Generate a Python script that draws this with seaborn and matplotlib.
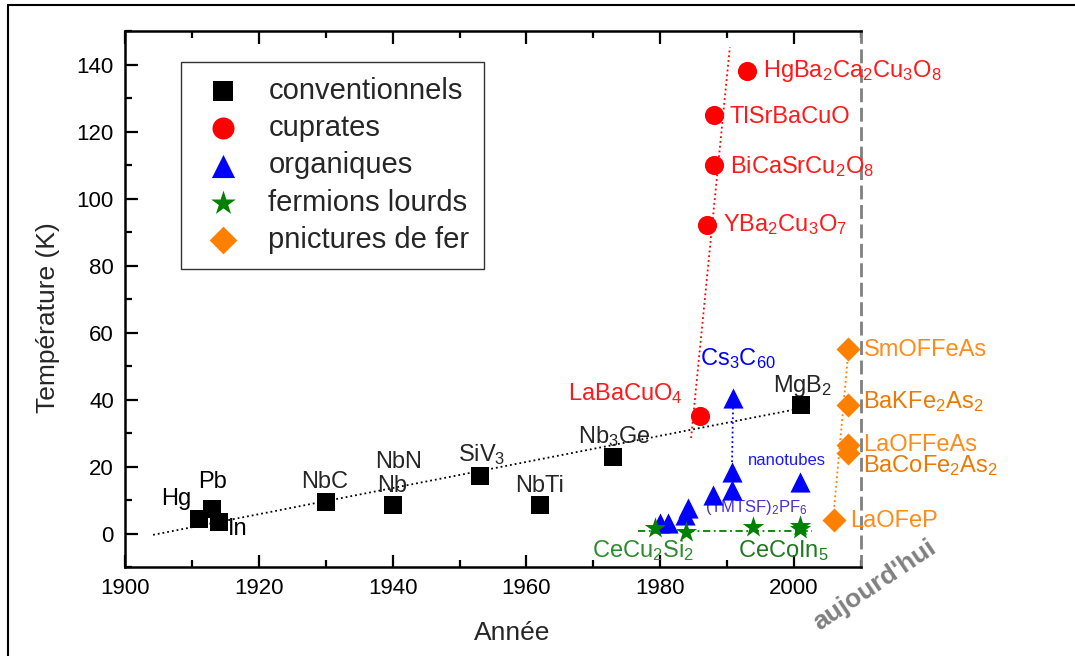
import matplotlib
matplotlib.use('Agg')
import matplotlib.pyplot as plt
import seaborn as sns
import pandas as pd
from matplotlib.lines import Line2D
from matplotlib.ticker import MultipleLocator

sns.set_theme(style='ticks')
plt.rcParams['font.family'] = ['Liberation Sans', 'DejaVu Sans']
plt.rcParams['mathtext.fontset'] = 'custom'
plt.rcParams['mathtext.rm'] = 'Liberation Sans'
plt.rcParams['mathtext.it'] = 'Liberation Sans:italic'
plt.rcParams['mathtext.bf'] = 'Liberation Sans:bold'

# --- données (année de découverte, Tc en K) ---
conv_noms = ['Hg', 'Pb', 'In', 'NbC', 'Nb', 'SiV$_3$', 'NbTi', 'Nb$_3$Ge', 'MgB$_2$']
conv_annees = [1911, 1913, 1914, 1930, 1940, 1953, 1962, 1973, 2001]
conv_tc = [4.2, 7.2, 3.4, 9.4, 8.6, 17.2, 8.5, 22.8, 38.4]

cupr_noms = ['LaBaCuO$_4$', 'YBa$_2$Cu$_3$O$_7$', 'BiCaSrCu$_2$O$_8$', 'TlSrBaCuO',
             'HgBa$_2$Ca$_2$Cu$_3$O$_8$']
cupr_annees = [1986, 1987, 1988, 1988, 1993]
cupr_tc = [35, 92, 110, 125, 138]

org_annees = [1980, 1981.2, 1983.7, 1984.1, 1987.9, 1990.7, 1990.7, 1990.9, 2000.9]
org_tc = [3.0, 3.0, 5.4, 7.6, 11.5, 13.0, 18.4, 40.4, 15.5]

ferm_annees = [1979.2, 1983.9, 1993.9, 2000.9, 2000.9]
ferm_tc = [1.5, 0.5, 1.9, 2.3, 1.4]

pnic_noms = ['SmOFFeAs', 'BaKFe$_2$As$_2$', 'LaOFFeAs', 'BaCoFe$_2$As$_2$', 'LaOFeP']
pnic_annees = [2008, 2008, 2008, 2008, 2006]
pnic_tc = [55, 38.4, 26.4, 24, 4]

# guides (tendances tracées à la main sur l'original)
guide_conv = ([1904.2, 1999.8], [-0.4, 36.9])
guide_cupr = ([1984.6, 1990.4], [28.5, 145.2])
guide_ferm = ([1976.7, 2002.7], [0.75, 0.75])
guide_pnic = ([2006.0, 2008.0], [8.0, 51.8])

fig = plt.figure(figsize=(10.75, 6.56), dpi=100)
ax = fig.add_axes([0.11628, 0.13567, 0.68465, 0.81707])

# cadre de la figure (haut et gauche)
fig.add_artist(Line2D([0.0074, 0.0074], [0, 0.992], color='black', lw=1.5))
fig.add_artist(Line2D([0.0074, 1], [0.992, 0.992], color='black', lw=1.5))

# lignes de tendance
ax.plot(*guide_conv, ls=':', color='black', lw=1.3, zorder=2)
ax.plot(*guide_cupr, ls=':', color='red', lw=1.3, zorder=2)
ax.plot([org_annees[7], org_annees[6]], [org_tc[7], org_tc[6]], ls=':', color='blue', lw=1.3, zorder=2)
ax.plot(*guide_ferm, ls=(0, (4, 2, 1, 2)), color='green', lw=1.3, zorder=2)
ax.plot(*guide_pnic, ls=':', color='#ff8000', lw=1.3, zorder=2)

familles = [
    ('conventionnels', conv_annees, conv_tc, 's', 'black', 150),
    ('cuprates', cupr_annees, cupr_tc, 'o', 'red', 190),
    ('organiques', org_annees, org_tc, '^', 'blue', 210),
    ('fermions lourds', ferm_annees, ferm_tc, '*', 'green', 260),
    ('pnictures de fer', pnic_annees, pnic_tc, 'D', '#ff8000', 150),
]
for nom, x, y, m, c, s in familles:
    df = pd.DataFrame({'annee': x, 'tc': y})
    sns.scatterplot(data=df, x='annee', y='tc', marker=m, color=c, s=s,
                    linewidth=0, label=nom, ax=ax, zorder=4)

# étiquettes : (décalage en pixels, alignement, couleur, taille)
def etiquette(texte, x, y, dx, dy, couleur, ha='left', taille=17, poids='normal'):
    ax.annotate(texte, xy=(x, y), xytext=(dx, dy), textcoords='offset pixels',
                ha=ha, va='baseline', color=couleur, fontsize=taille,
                fontweight=poids, annotation_clip=False, zorder=3)

conv_pos = [(-22, 14, 'center', 'black'), (1, 21, 'center', 'black'), (9, -13, 'left', 'black'),
            (-1, 14, 'center', '#262626'), (-1, 13, 'center', '#262626'),
            (-22, 15, 'left', '#262626'), (0, 13, 'center', '#262626'),
            (-35, 14, 'left', '#262626'), (-28, 13, 'left', '#262626')]
for nom, x, y, (dx, dy, ha, c) in zip(conv_noms, conv_annees, conv_tc, conv_pos):
    etiquette(nom, x, y, dx, dy, c, ha=ha)
etiquette('NbN', conv_annees[4], conv_tc[4], 6, 37, '#262626', ha='center')

cupr_pos = [(-132, 16), (16, -6), (16, -8), (16, -8), (16, -6)]
for nom, x, y, (dx, dy) in zip(cupr_noms, cupr_annees, cupr_tc, cupr_pos):
    etiquette(nom, x, y, dx, dy, '#ff1a1a')

etiquette('Cs$_3$C$_{60}$', org_annees[7], org_tc[7], -33, 33, 'blue')
etiquette('nanotubes', org_annees[8], org_tc[8], -52, 17, '#1a1aff', taille=12)
etiquette('(TMTSF)$_2$PF$_6$', org_annees[3], org_tc[3], 17, -4, '#4b32d0', taille=12)

etiquette('CeCu$_2$Si$_2$', ferm_annees[0], ferm_tc[0], -63, -29, '#2e8b2e')
etiquette('CeCoIn$_5$', ferm_annees[3], ferm_tc[3], -62, -31, '#1f7a1f')

pnic_pos = [(16, -7, '#ff8c1a'), (15, -3, '#f07800'), (16, -6, '#ff8c1a'), (15, -19, '#f07800'),
            (16, -7, '#ff8c1a')]
for nom, x, y, (dx, dy, c) in zip(pnic_noms, pnic_annees, pnic_tc, pnic_pos):
    etiquette(nom, x, y, dx, dy, c)

ax.text(1.018, -0.034, "aujourd'hui", transform=ax.transAxes, rotation=34,
        ha='center', va='center', color='#808080', fontsize=19, fontweight='bold',
        rotation_mode='anchor', clip_on=False)

# axes
ax.set_xlim(1900, 2010)
ax.set_ylim(-10, 150)
ax.xaxis.set_major_locator(MultipleLocator(20))
ax.xaxis.set_minor_locator(MultipleLocator(10))
ax.yaxis.set_major_locator(MultipleLocator(20))
ax.yaxis.set_minor_locator(MultipleLocator(10))
ax.set_yticks(range(0, 141, 20))
ax.tick_params(which='both', direction='in', top=True, right=False, width=1.6,
               labelsize=16, colors='black', pad=8)
ax.tick_params(which='major', length=9)
ax.tick_params(which='minor', length=5)

for cote in ['left', 'bottom', 'top']:
    ax.spines[cote].set_linewidth(1.8)
    ax.spines[cote].set_color('black')
ax.spines['right'].set_linestyle((0, (4, 3)))
ax.spines['right'].set_color('#808080')
ax.spines['right'].set_linewidth(2)

ax.set_xlabel('Année', fontsize=19)
ax.set_ylabel('Température (K)', fontsize=19)
ax.xaxis.set_label_coords(0.526, -0.1)
ax.yaxis.set_label_coords(-0.088, 0.465)

leg = ax.legend(loc='upper left', bbox_to_anchor=(0.076, 0.942), borderaxespad=0,
                fontsize=21, frameon=True, fancybox=False, edgecolor='black',
                borderpad=0.5, labelspacing=0.32, handlelength=1.9, handletextpad=0.6,
                markerscale=1.15)
leg.get_frame().set_linewidth(1.0)

fig.savefig('out.png', dpi=100)
